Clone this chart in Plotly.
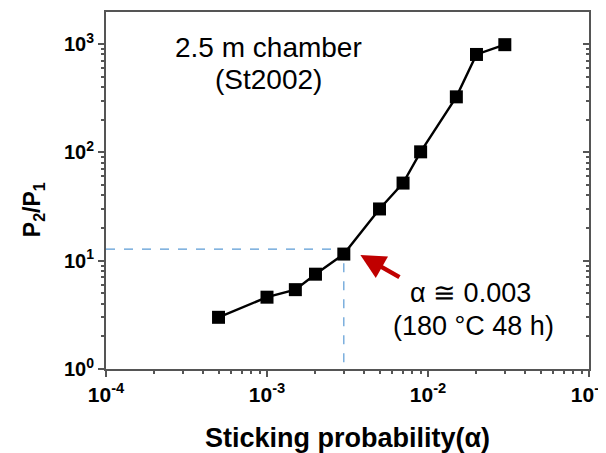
import plotly.graph_objects as go

alpha = [5e-4, 1e-3, 1.5e-3, 2e-3, 3e-3, 5e-3, 7e-3, 9e-3, 1.5e-2, 2e-2, 3e-2]
ratio = [3.0, 4.6, 5.4, 7.5, 11.5, 30, 52, 101, 325, 800, 985]

x_ticks = [1e-4, 1e-3, 1e-2, 1e-1]
x_ticktext = ["10<sup>-4</sup>", "10<sup>-3</sup>", "10<sup>-2</sup>", "10<sup>-1</sup>"]
y_ticks = [1, 10, 100, 1000]
y_ticktext = ["10<sup>0</sup>", "10<sup>1</sup>", "10<sup>2</sup>", "10<sup>3</sup>"]

guide_alpha = 3e-3
guide_ratio = 12.8

FONT = "Arial, Liberation Sans, sans-serif"

x_minor = [m * 10.0 ** e for e in (-4, -3, -2) for m in range(2, 10)]
y_minor = [m * 10.0 ** e for e in (0, 1, 2, 3) for m in range(2, 10)]

fig = go.Figure()

fig.add_trace(go.Scatter(x=[1e-4, guide_alpha, guide_alpha], y=[guide_ratio, guide_ratio, 1],
                         mode="lines", line=dict(color="#5b9bd5", width=1.2, dash="dash"),
                         hoverinfo="skip", showlegend=False))

fig.add_trace(go.Scatter(x=alpha, y=ratio, mode="lines+markers",
                         line=dict(color="black", width=2.4),
                         marker=dict(symbol="square", size=13, color="black"),
                         showlegend=False))

fig.add_trace(go.Scatter(x=[1e-3], y=[10], yaxis="y2", mode="markers",
                         marker=dict(opacity=0), hoverinfo="skip", showlegend=False))

axis_common = dict(type="log", showgrid=False, zeroline=False, showline=True,
                   linecolor="#555", linewidth=2, automargin=False)

# page body adds an 8px offset, so the figure is 8px smaller and margins shifted
fig.update_layout(
    width=598, height=445,
    margin=dict(l=98, r=17, t=4, b=84),
    plot_bgcolor="white", paper_bgcolor="white",
    font=dict(family=FONT, color="black"),
    xaxis=dict(**axis_common, range=[-4, -1], tickvals=x_ticks, ticktext=x_ticktext,
               ticks="outside", ticklen=6, tickwidth=1.5, tickcolor="#555",
               ticklabeloverflow="allow",
               minor=dict(tickvals=x_minor, ticks="outside", ticklen=3, tickcolor="#555", tickwidth=1.5),
               tickfont=dict(size=21, family=FONT, weight="bold"),
               mirror=True),
    yaxis=dict(**axis_common, range=[0, 3.295], tickvals=y_ticks, ticktext=y_ticktext,
               ticks="outside", ticklen=6, tickwidth=1.5, tickcolor="#555",
               ticklabeloverflow="allow",
               minor=dict(tickvals=y_minor, ticks="outside", ticklen=3, tickcolor="#555", tickwidth=1.5),
               tickfont=dict(size=20, family=FONT, weight="bold"),
               mirror=True),
    yaxis2=dict(**axis_common, range=[0, 3.295], overlaying="y", side="right",
                tickvals=y_ticks, ticks="inside", ticklen=6, tickwidth=1.5, tickcolor="#555",
                showticklabels=False,
                minor=dict(tickvals=y_minor, ticks="inside", ticklen=3, tickcolor="#555", tickwidth=1.5)),
)

fig.add_annotation(text="Sticking probability(α)", xref="paper", yref="paper",
                   x=0.5, y=-0.193, yanchor="middle", showarrow=False,
                   font=dict(size=27, family=FONT, weight="bold"))
fig.add_annotation(text="P<sub>2</sub>/P<sub>1</sub>", xref="paper", yref="paper",
                   x=-0.151, xanchor="center", y=0.445, yanchor="middle", textangle=-90,
                   showarrow=False, font=dict(size=23, family=FONT, weight="bold"))

fig.add_annotation(text="2.5 m chamber", x=-2.99, y=2.964, xref="x", yref="y",
                   showarrow=False, font=dict(size=28, family=FONT))
fig.add_annotation(text="(St2002)", x=-2.99, y=2.668, xref="x", yref="y",
                   showarrow=False, font=dict(size=28, family=FONT))
fig.add_annotation(text="α ≅ 0.003", x=-1.734, y=0.70, xref="x", yref="y",
                   showarrow=False, font=dict(size=27, family=FONT))
fig.add_annotation(text="(180 °C 48 h)", x=-1.72, y=0.40, xref="x", yref="y",
                   showarrow=False, font=dict(size=27, family=FONT))

fig.add_annotation(x=-2.42, y=1.053, ax=-2.168, ay=0.84, xref="x", yref="y",
                   axref="x", ayref="y", text="", showarrow=True,
                   arrowhead=2, arrowsize=1.1, arrowwidth=4.5, arrowcolor="#c00000")

fig.write_html("out.html")
